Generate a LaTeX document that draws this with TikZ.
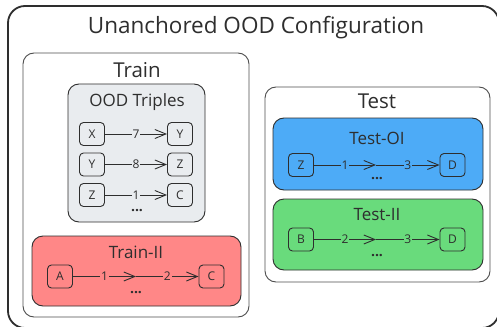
\documentclass[tikz,border=0pt]{standalone}
\usepackage{fontspec}
\setmainfont{Open Sans}
\usetikzlibrary{arrows.meta}
\definecolor{ink}{HTML}{2E2E2E}
\definecolor{graybox}{HTML}{E9ECEF}
\definecolor{redbox}{HTML}{FF8787}
\definecolor{bluebox}{HTML}{4DABF7}
\definecolor{greenbox}{HTML}{69DB7C}
\tikzset{
  x=1pt, y=-1pt,
  every node/.style={text=ink},
  ent/.style={draw=ink, line width=0.9pt, rounded corners=4pt, minimum width=25pt, minimum height=23pt, inner sep=0pt, font=\fontsize{12}{12}\selectfont},
  rel/.style={draw=ink, line width=0.9pt, -{Straight Barb[length=11pt,width=9pt,line width=0.9pt]}},
  lbl/.style={inner sep=0.8pt, font=\fontsize{12}{12}\selectfont},
  panel/.style={draw=ink!85, line width=0.9pt, rounded corners=11pt},
  colpanel/.style={draw=ink, line width=0.9pt, rounded corners=11pt},
  dots/.style={font=\fontsize{14}{14}\selectfont\bfseries, inner sep=0pt},
  sub/.style={font=\fontsize{17}{17}\selectfont}
}
\begin{document}
\begin{tikzpicture}
\useasboundingbox (0,0) rectangle (497,326);
\clip (0,0) rectangle (497,326);
\fill[white] (0,0) rectangle (497,326);
% outer
\draw[draw=ink, line width=1.8pt, rounded corners=17pt] (8,6) rectangle (499,328);
\node[font=\fontsize{22.5}{22.5}\selectfont] (title) at (256,28) {Unanchored OOD Configuration};
% Train
\draw[panel] (23,53) rectangle (249,317);
\node[font=\fontsize{20.5}{20.5}\selectfont] (train) at (137,70) {Train};
\draw[colpanel, fill=graybox] (68,84) rectangle (205,222);
\node[sub] (ood) at (137,102) {OOD Triples};
\node[ent] (x1) at (92,134) {X};
\node[ent] (y1) at (180,134) {Y};
\node[ent] (y2) at (92,164.5) {Y};
\node[ent] (z2) at (180,164.5) {Z};
\node[ent] (z3) at (92,195) {Z};
\node[ent] (c3) at (180,195) {C};
\draw[rel] (x1) -- node[lbl, fill=graybox] {7} (y1);
\draw[rel] (y2) -- node[lbl, fill=graybox] {8} (z2);
\draw[rel] (z3) -- node[lbl, fill=graybox] {1} (c3);
\node[dots] (d1) at (137,211) {...};
% Train-II
\draw[colpanel, fill=redbox] (32,236) rectangle (241,306);
\node[sub] (trii) at (136,252) {Train-II};
\node[ent] (a) at (60,276.5) {A};
\node[ent] (c) at (211.5,276.5) {C};
\coordinate (m1) at (136,276.5);
\draw[rel] (a) -- node[lbl, fill=redbox] {1} (m1);
\draw[rel] (m1) -- node[lbl, fill=redbox] {2} (c);
\node[dots] (d2) at (136,293) {...};
% Test
\draw[panel] (265,87) rectangle (490,282);
\node[font=\fontsize{20.5}{20.5}\selectfont] (test) at (377,101) {Test};
\draw[colpanel, fill=bluebox] (273,118) rectangle (483,190);
\node[sub] (teoi) at (377,138) {Test-OI};
\node[ent] (z) at (301,165) {Z};
\node[ent] (d) at (452.5,165) {D};
\coordinate (m2) at (376,165);
\draw[rel] (z) -- node[lbl, fill=bluebox] {1} (m2);
\draw[rel] (m2) -- node[lbl, fill=bluebox] {3} (d);
\node[dots] (d3) at (377,179) {...};
\draw[colpanel, fill=greenbox] (273,199) rectangle (483,270);
\node[sub] (teii) at (377,215) {Test-II};
\node[ent] (b) at (301,239.5) {B};
\node[ent] (d4) at (452.5,239.5) {D};
\coordinate (m3) at (376,239.5);
\draw[rel] (b) -- node[lbl, fill=greenbox] {2} (m3);
\draw[rel] (m3) -- node[lbl, fill=greenbox] {3} (d4);
\node[dots] (d5) at (377,256) {...};
\end{tikzpicture}
\end{document}
